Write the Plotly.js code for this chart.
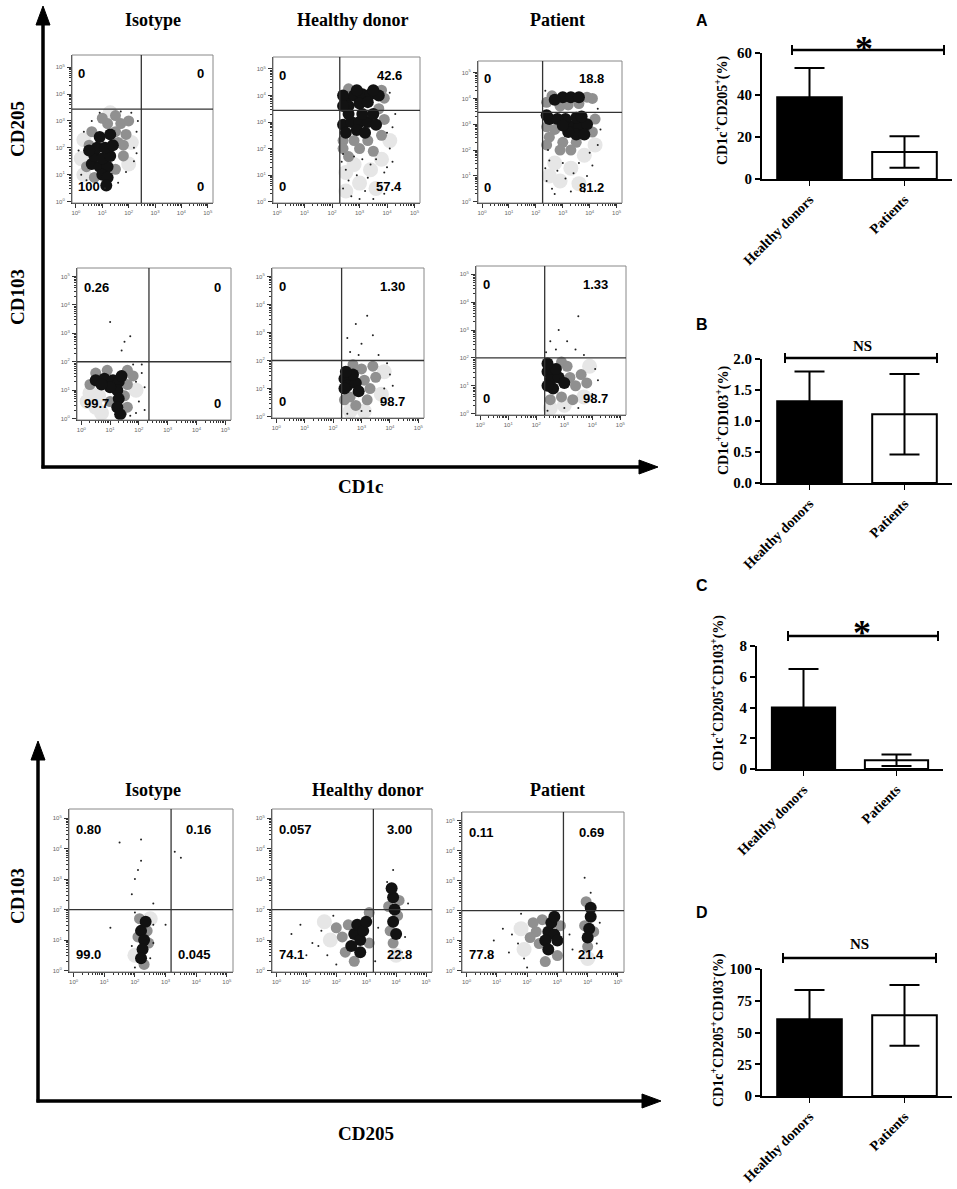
<!DOCTYPE html>
<html><head><meta charset="utf-8">
<script src="https://cdn.plot.ly/plotly-3.0.1.min.js"></script>
<style>html,body{margin:0;padding:0;background:#fff}#chart{width:957px;height:1189px}</style>
</head><body><div id="chart"></div>
<script>
// ================= DATA =================
// Bar charts
const groups = ['Healthy donors', 'Patients'];
const meanA = [38.9, 12.9];  const sdA = [14.0, 7.5];   // CD1c+CD205+ (%)
const meanB = [1.32, 1.11];  const sdB = [0.48, 0.65];  // CD1c+CD103+ (%)
const meanC = [4.0, 0.57];   const sdC = [2.5, 0.38];   // CD1c+CD205+CD103+ (%)
const meanD = [60.5, 63.5];  const sdD = [23.0, 24.0];  // CD1c+CD205+CD103- (%)
const sigLabels = ['*', 'NS', '*', 'NS'];
const yTitles = ['CD1c<sup>+</sup>CD205<sup>+</sup>(%)', 'CD1c<sup>+</sup>CD103<sup>+</sup>(%)',
  'CD1c<sup>+</sup>CD205<sup>+</sup>CD103<sup>+</sup>(%)', 'CD1c<sup>+</sup>CD205<sup>+</sup>CD103<sup>-</sup>(%)'];
const panelLetters = ['A', 'B', 'C', 'D'];

// Flow plots: column titles, tick labels
const columnTitles = ['Isotype', 'Healthy donor', 'Patient'];
const decadeLabels = ['10<sup>0</sup>', '10<sup>1</sup>', '10<sup>2</sup>', '10<sup>3</sup>', '10<sup>4</sup>', '10<sup>5</sup>'];

// Quadrant percentages [top-left, top-right, bottom-left, bottom-right]
const quadIsoCD205 = ['0', '0', '100', '0'];
const quadHdCD205  = ['0', '42.6', '0', '57.4'];
const quadPtCD205  = ['0', '18.8', '0', '81.2'];
const quadIsoCD103 = ['0.26', '0', '99.7', '0'];
const quadHdCD103  = ['0', '1.30', '0', '98.7'];
const quadPtCD103  = ['0', '1.33', '0', '98.7'];
const quadIsoB     = ['0.80', '0.16', '99.0', '0.045'];
const quadHdB      = ['0.057', '3.00', '74.1', '22.8'];
const quadPtB      = ['0.11', '0.69', '77.8', '21.4'];

// Quadrant gate positions (log10 decades)
const gateX = [2.48, 2.28, 2.25, 2.35, 2.30, 2.30, 3.18, 3.24, 3.20];
const gateY = [3.44, 3.44, 3.46, 2.0, 2.0, 2.0, 2.0, 2.0, 2.0];

// Event clouds, log10 decades [x, y]: dense cores, medium density, faint halo, single events
const isoCD205Core = [[0.6,1.4],[0.9,1.3],[1.2,1.3],[0.7,1.7],[1.0,1.6],[1.3,1.7],[0.8,2.0],[1.1,2.0],[1.4,2.1],[1.0,1.0],[1.2,0.9],[0.9,2.4],[1.3,2.5],[1.15,0.6],[0.5,1.9]];
const isoCD205Mid = [[1.5,2.6],[1.7,2.9],[1.2,2.9],[1.9,2.5],[1.6,2.2],[0.4,1.3],[0.5,2.1],[1.0,3.1],[1.5,3.2],[2.0,3.0],[1.8,1.7],[0.7,0.9],[1.5,1.2],[0.6,2.6],[1.8,2.1]];
const isoCD205Faint = [[0.2,1.6],[0.3,2.3],[2.1,2.2],[0.3,1.0],[2.0,1.4],[1.3,3.3]];
const isoCD205Sparse = [[2.2,2.0],[2.1,3.3],[0.3,2.6],[0.2,1.0],[1.9,1.1],[2.3,2.6],[0.6,3.0],[1.1,0.5],[1.7,3.35],[2.2,1.5],[0.1,1.9],[2.35,3.0],[0.4,0.8],[1.6,0.7],[2.3,1.8],[0.9,3.3]];

const hdCD205Core = [[2.5,3.85],[2.8,4.0],[3.1,4.05],[3.4,4.05],[3.7,4.0],[2.6,3.6],[3.0,3.7],[3.3,3.75],[2.9,4.2],[3.5,4.2],
  [2.4,2.9],[2.7,3.0],[3.0,3.0],[3.3,3.0],[3.6,2.9],[2.5,2.6],[2.9,2.7],[3.2,2.6],[2.6,3.3],[3.1,3.3],[3.5,3.3],[2.4,4.0],[2.4,3.6]];
const hdCD205Mid = [[2.4,2.3],[2.8,2.3],[3.3,2.3],[3.8,2.5],[3.9,3.1],[3.9,3.9],[2.4,2.0],[3.0,2.0],[3.5,1.9],[2.6,1.7],[3.8,4.2],[2.6,4.25],[3.7,3.5]];
const hdCD205Faint = [[2.8,1.4],[3.4,1.2],[3.0,0.7],[3.8,1.6],[2.5,1.1],[3.6,0.5],[4.1,2.3],[2.5,0.4]];
const hdCD205Sparse = [[2.5,1.2],[2.9,1.0],[3.4,1.4],[3.9,1.1],[2.4,0.5],[3.2,0.4],[3.7,0.7],[4.1,2.0],[4.2,1.5],[2.7,0.2],[3.5,0.1],[4.0,2.6],[2.35,1.5],[3.1,1.6],[4.3,3.3],
  [2.6,0.8],[3.3,0.9],[4.0,1.3],[2.8,1.7],[3.6,1.6],[4.2,2.8],[4.1,4.1],[3.0,0.1],[2.4,1.8],[3.9,0.3]];

const ptCD205Core = [[3.0,4.05],[3.3,4.05],[3.6,4.05],[2.7,3.95],
  [3.3,2.9],[3.6,2.9],[3.9,3.0],[3.5,2.6],[3.8,2.6],[3.1,3.2],[3.5,3.25],[2.5,3.2],[2.8,3.2],[3.2,2.7],[3.7,3.3],[3.0,2.95],[2.4,3.35]];
const ptCD205Mid = [[2.4,3.85],[2.6,4.1],[3.9,4.05],[4.1,4.0],[3.2,3.75],[2.9,3.7],[3.6,3.8],
  [2.4,2.9],[2.7,2.8],[2.5,2.5],[3.0,2.3],[3.5,2.3],[4.1,2.7],[4.2,3.2],[2.4,2.2],[2.9,2.0],[3.3,2.0]];
const ptCD205Faint = [[2.7,1.5],[3.3,1.3],[3.8,1.8],[2.9,0.8],[2.5,1.0],[3.6,0.7],[4.2,2.2]];
const ptCD205Sparse = [[2.5,1.6],[2.8,1.2],[3.1,0.9],[3.6,1.5],[4.0,1.9],[2.4,0.8],[3.3,0.4],[2.7,0.3],[4.3,2.2],[3.9,1.0],[2.35,1.3],[4.4,2.8],
  [2.6,0.5],[3.0,1.5],[3.4,1.1],[4.1,1.4],[2.45,2.0],[3.8,0.4],[4.3,3.6],[2.35,4.3]];

const isoCD103Core = [[0.5,1.35],[0.8,1.4],[1.1,1.35],[1.3,1.3],[1.25,1.0],[1.3,0.7],[1.25,0.4],[1.0,1.1],[0.7,1.2],[1.4,1.5],[1.35,0.15]];
const isoCD103Mid = [[0.3,1.2],[0.5,1.6],[1.6,1.2],[1.5,0.8],[1.4,0.2],[1.0,0.6],[1.8,1.5],[0.9,1.7],[1.6,1.7],[1.6,0.4]];
const isoCD103Faint = [[0.2,0.6],[0.5,0.4],[0.3,0.9],[0.7,0.2],[1.9,1.0],[0.6,0.8]];
const isoCD103Sparse = [[2.0,0.6],[2.2,1.1],[1.9,0.2],[2.1,1.6],[1.0,3.4],[1.5,2.7],[1.7,2.9],[1.4,2.4],[1.8,1.9],[2.2,0.3],[1.9,1.3],[2.1,1.9],[1.7,0.1]];

const hdCD103Core = [[2.4,1.35],[2.6,1.3],[2.5,1.1],[2.8,1.2],[2.7,1.5],[2.9,0.9],[2.45,1.6],[2.4,1.0]];
const hdCD103Mid = [[3.1,1.3],[3.3,1.0],[3.0,1.7],[3.2,0.6],[2.6,0.7],[3.5,1.4],[2.8,0.4],[3.4,1.8],[2.4,0.6],[2.7,1.85]];
const hdCD103Faint = [[3.7,0.8],[2.6,0.2],[3.8,1.6],[3.1,0.2]];
const hdCD103Sparse = [[3.8,1.0],[3.7,0.5],[4.0,1.5],[2.5,0.1],[3.0,0.2],[2.6,2.3],[3.0,2.6],[3.4,2.9],[2.8,3.3],[3.6,2.2],[2.5,2.8],[3.9,1.9],[4.1,1.1],[3.3,0.2],[2.9,2.2],[3.2,3.6]];

const ptCD103Core = [[2.4,1.5],[2.6,1.4],[2.5,1.2],[2.8,1.3],[2.7,1.6],[2.4,1.8],[3.0,1.1],[2.6,0.9],[2.4,1.0]];
const ptCD103Mid = [[3.2,1.3],[3.4,1.0],[3.1,1.7],[3.6,1.4],[2.9,0.6],[3.3,0.5],[2.5,0.5],[3.8,1.1],[2.9,1.85]];
const ptCD103Faint = [[2.5,0.2],[3.0,0.3],[3.9,1.7],[3.7,0.6]];
const ptCD103Sparse = [[4.0,0.7],[4.1,1.6],[2.4,0.1],[3.0,0.2],[2.7,2.3],[3.1,2.6],[3.4,2.3],[2.8,3.0],[3.5,3.5],[3.7,2.1],[2.5,2.6],[4.2,1.2],[3.5,0.2],[2.35,2.2]];

const isoBCore = [[2.2,1.3],[2.3,1.0],[2.25,0.7],[2.35,1.6],[2.2,0.4]];
const isoBMid = [[2.1,1.1],[2.4,1.3],[2.3,0.2],[2.15,1.7],[2.45,0.9]];
const isoBFaint = [[2.5,1.7],[2.0,0.5]];
const isoBSparse = [[2.6,1.5],[1.9,0.8],[2.0,1.9],[2.5,0.4],[1.2,1.4],[1.9,2.5],[2.0,3.0],[2.1,3.3],[2.2,3.6],[2.6,2.2],[3.3,3.9],[3.5,3.7],[1.5,4.2],[2.2,4.3],[3.0,1.5],[2.0,0.1],[2.6,0.9]];

const hdBCore = [[2.6,1.2],[2.8,1.0],[2.7,1.5],[2.9,1.3],[2.5,0.8],[2.8,0.6],[3.0,1.6],
  [3.9,1.6],[3.95,2.0],[3.9,2.4],[4.0,1.2],[3.85,2.7]];
const hdBMid = [[2.2,1.1],[2.4,1.5],[2.3,0.6],[3.1,0.9],[2.6,0.3],[2.0,1.4],[3.1,1.9],
  [4.05,1.8],[3.8,1.3],[4.1,2.3],[3.75,2.1],[3.9,0.9]];
const hdBFaint = [[1.8,1.0],[1.6,1.6],[4.0,0.5]];
const hdBSparse = [[1.5,1.3],[1.2,0.9],[0.8,1.5],[1.7,0.5],[1.9,1.8],[0.5,1.2],[3.4,1.4],[4.3,1.1],[4.4,2.2],[3.9,3.3],[3.7,2.9],[3.3,0.3],[1.0,0.5],[1.4,0.8],[2.0,0.2],[4.2,0.6]];

const ptBCore = [[2.7,1.3],[2.9,1.2],[2.8,1.6],[3.0,1.0],[2.6,1.0],[2.9,1.8],[2.7,0.7],
  [4.05,1.4],[4.1,1.8],[4.0,1.1],[4.1,2.1]];
const ptBMid = [[2.3,1.3],[2.4,0.9],[3.1,1.5],[2.5,1.7],[2.6,0.3],[3.0,0.5],[2.1,1.1],[2.2,1.6],
  [3.9,1.5],[4.2,1.3],[3.95,2.3],[4.0,0.8]];
const ptBFaint = [[1.8,1.4],[1.9,0.7],[4.0,0.4]];
const ptBSparse = [[1.5,1.2],[1.7,0.9],[1.2,1.4],[1.9,0.4],[0.9,1.0],[3.4,1.2],[3.5,0.7],[4.4,1.6],[4.1,2.6],[3.9,3.1],[1.8,1.9],[1.4,0.6],[2.0,0.1],[4.3,0.9]];

// ================= LAYOUT HELPERS =================
const W = 957, H = 1189;
const px = v => v / W;
const py = v => 1 - v / H;
const serif = 'Liberation Serif, Times New Roman, serif';
const sans = 'Liberation Sans, Arial, sans-serif';

const flowPanels = [
  {box: [72, 213, 55, 203],  yr: [-0.05, 5.45], core: isoCD205Core, mid: isoCD205Mid, faint: isoCD205Faint, sparse: isoCD205Sparse, quad: quadIsoCD205, xr: 0.95},
  {box: [273, 420, 57, 203], yr: [-0.05, 5.45], core: hdCD205Core, mid: hdCD205Mid, faint: hdCD205Faint, sparse: hdCD205Sparse, quad: quadHdCD205, xr: 0.89},
  {box: [478, 622, 61, 203], yr: [-0.05, 5.45], core: ptCD205Core, mid: ptCD205Mid, faint: ptCD205Faint, sparse: ptCD205Sparse, quad: quadPtCD205, xr: 0.89},
  {box: [77, 231, 268, 420], yr: [-0.05, 5.3], core: isoCD103Core, mid: isoCD103Mid, faint: isoCD103Faint, sparse: isoCD103Sparse, quad: quadIsoCD103, xr: 0.95},
  {box: [272, 424, 268, 418], yr: [-0.05, 5.3], core: hdCD103Core, mid: hdCD103Mid, faint: hdCD103Faint, sparse: hdCD103Sparse, quad: quadHdCD103, xr: 0.89},
  {box: [476, 626, 266, 415], yr: [-0.05, 5.3], core: ptCD103Core, mid: ptCD103Mid, faint: ptCD103Faint, sparse: ptCD103Sparse, quad: quadPtCD103, xr: 0.89},
  {box: [69, 233, 809, 972],  yr: [-0.05, 5.3], core: isoBCore, mid: isoBMid, faint: isoBFaint, sparse: isoBSparse, quad: quadIsoB, xr: 0.88},
  {box: [272, 432, 809, 972], yr: [-0.05, 5.3], core: hdBCore, mid: hdBMid, faint: hdBFaint, sparse: hdBSparse, quad: quadHdB, xr: 0.89},
  {box: [462, 624, 812, 972], yr: [-0.05, 5.3], core: ptBCore, mid: ptBMid, faint: ptBFaint, sparse: ptBSparse, quad: quadPtB, xr: 0.89}
];
const flowXRange = [-0.15, 5.2];

const barPanels = [
  {box: [762, 952, 53, 179],  mean: meanA, sd: sdA, max: 60,  ticks: [0, 20, 40, 60], fmt: v => String(v),
   letter: [702, 20], title: [722, 110], bracket: [792, 944, 50], sig: [864, 49]},
  {box: [762, 952, 359, 483], mean: meanB, sd: sdB, max: 2,   ticks: [0, 0.5, 1, 1.5, 2], fmt: v => v.toFixed(1),
   letter: [702, 325], title: [722, 420], bracket: [785, 937, 358], sig: [862, 346]},
  {box: [757, 943, 646, 769], mean: meanC, sd: sdC, max: 8,   ticks: [0, 2, 4, 6, 8], fmt: v => String(v),
   letter: [702, 585], title: [717, 693], bracket: [788, 938, 636], sig: [862, 633]},
  {box: [762, 952, 969, 1096], mean: meanD, sd: sdD, max: 100, ticks: [0, 25, 50, 75, 100], fmt: v => String(v),
   letter: [702, 912], title: [717, 1030], bracket: [783, 936, 958], sig: [859, 944]}
];

const traces = [];
const layout = {
  width: W, height: H, margin: {l: 0, r: 0, t: 0, b: 0},
  paper_bgcolor: '#fff', plot_bgcolor: 'rgba(0,0,0,0)',
  showlegend: false, font: {family: serif, color: '#000'},
  shapes: [], annotations: []
};

const minorVals = [];
for (let n = 0; n < 5; n++) for (let k = 2; k <= 9; k++) minorVals.push(n + Math.log10(k));

function axId(n) { return n === 1 ? '' : String(n); }

// ---------- flow panels ----------
flowPanels.forEach((p, i) => {
  const n = i + 1, s = axId(n);
  const [x0, x1, y0, y1] = p.box;
  const axBase = {
    showline: true, linecolor: '#333', linewidth: 1, mirror: false,
    ticks: 'outside', ticklen: 4, tickwidth: 1, tickcolor: '#333',
    tickvals: [0, 1, 2, 3, 4, 5], ticktext: decadeLabels,
    tickfont: {family: sans, size: 6, color: '#666'},
    showgrid: false, zeroline: false, fixedrange: true,
    minor: {tickvals: minorVals, ticks: 'outside', ticklen: 2, tickcolor: '#333', showgrid: false}
  };
  layout['xaxis' + s] = Object.assign({}, axBase, {domain: [px(x0), px(x1)], range: flowXRange, anchor: 'y' + s});
  layout['yaxis' + s] = Object.assign({}, axBase, {domain: [py(y1), py(y0)], range: p.yr, anchor: 'x' + s, ticklabelstandoff: 1});
  const xa = 'x' + s, ya = 'y' + s;
  const add = (pts, size, color) => traces.push({
    type: 'scatter', mode: 'markers', x: pts.map(d => d[0]), y: pts.map(d => d[1]),
    xaxis: xa, yaxis: ya, hoverinfo: 'skip', cliponaxis: true,
    marker: {size: size, color: color, line: {width: 0}}
  });
  add(p.faint, 15, '#e6e6e6');
  add(p.mid, 11, '#909090');
  add(p.core, 12, '#121212');
  add(p.sparse, 2, '#222');
  // box frame
  layout.shapes.push({type: 'rect', xref: xa + ' domain', yref: ya + ' domain', x0: 0, x1: 1, y0: 0, y1: 1,
    line: {color: '#888', width: 1}});
  // quadrant gates
  layout.shapes.push({type: 'line', xref: xa, yref: ya + ' domain', x0: gateX[i], x1: gateX[i], y0: 0, y1: 1,
    line: {color: '#333', width: 1.3}});
  layout.shapes.push({type: 'line', xref: xa + ' domain', yref: ya, x0: 0, x1: 1, y0: gateY[i], y1: gateY[i],
    line: {color: '#333', width: 1.3}});
  // quadrant percentages
  const qpos = [[0.03, 0.875, 'left'], [p.xr, 0.875, 'right'], [0.03, 0.11, 'left'], [p.xr, 0.11, 'right']];
  p.quad.forEach((t, k) => layout.annotations.push({
    xref: xa + ' domain', yref: ya + ' domain', x: qpos[k][0], y: qpos[k][1],
    xanchor: qpos[k][2], yanchor: 'middle', text: t, showarrow: false,
    font: {family: sans, size: 13, color: '#000', weight: 'bold'}
  }));
});

// column titles
const titlePos = [[153, 20], [353, 20], [557, 20], [153, 790], [368, 790], [557, 790]];
titlePos.forEach((t, k) => layout.annotations.push({
  xref: 'paper', yref: 'paper', x: px(t[0]), y: py(t[1]), xanchor: 'center', yanchor: 'middle',
  text: columnTitles[k % 3], showarrow: false, font: {family: serif, size: 18, color: '#000', weight: 'bold'}
}));

// big axis labels
const bigLabels = [
  {t: 'CD205', x: 17, y: 129, a: -90}, {t: 'CD103', x: 17, y: 297, a: -90}, {t: 'CD1c', x: 360, y: 486, a: 0},
  {t: 'CD103', x: 17, y: 896, a: -90}, {t: 'CD205', x: 366, y: 1133, a: 0}
];
bigLabels.forEach(b => layout.annotations.push({
  xref: 'paper', yref: 'paper', x: px(b.x), y: py(b.y), xanchor: 'center', yanchor: 'middle',
  text: b.t, textangle: b.a, showarrow: false, font: {family: serif, size: 19, color: '#000', weight: 'bold'}
}));

// big arrows (axes of the flow blocks)
function arrowV(x, yBottom, yTip) {
  layout.shapes.push({type: 'line', xref: 'paper', yref: 'paper', x0: px(x), x1: px(x), y0: py(yBottom), y1: py(yTip + 14),
    line: {color: '#000', width: 3.5}});
  layout.shapes.push({type: 'path', xref: 'paper', yref: 'paper',
    path: `M ${px(x - 7)} ${py(yTip + 19)} L ${px(x)} ${py(yTip)} L ${px(x + 7)} ${py(yTip + 19)} Z`,
    fillcolor: '#000', line: {color: '#000', width: 1}});
}
function arrowH(y, xLeft, xTip) {
  layout.shapes.push({type: 'line', xref: 'paper', yref: 'paper', x0: px(xLeft), x1: px(xTip - 14), y0: py(y), y1: py(y),
    line: {color: '#000', width: 3.5}});
  layout.shapes.push({type: 'path', xref: 'paper', yref: 'paper',
    path: `M ${px(xTip - 19)} ${py(y - 7)} L ${px(xTip)} ${py(y)} L ${px(xTip - 19)} ${py(y + 7)} Z`,
    fillcolor: '#000', line: {color: '#000', width: 1}});
}
arrowV(43, 468.5, 6); arrowH(467, 41.5, 658);
arrowV(38, 1102.5, 741); arrowH(1101, 36.5, 661);

// ---------- bar panels ----------
barPanels.forEach((b, j) => {
  const n = 10 + j, s = String(n);
  const [x0, x1, y0, y1] = b.box;
  layout['xaxis' + s] = {
    domain: [px(x0), px(x1)], anchor: 'y' + s, type: 'category', range: [-0.5, 1.5],
    showline: true, linecolor: '#000', linewidth: 2, ticks: 'outside', ticklen: 5, tickwidth: 1.5, tickcolor: '#000',
    tickangle: -45, tickfont: {family: serif, size: 14, color: '#000', weight: 'bold'},
    showgrid: false, zeroline: false, fixedrange: true
  };
  layout['yaxis' + s] = {
    domain: [py(y1), py(y0)], anchor: 'x' + s, range: [0, b.max],
    tickvals: b.ticks, ticktext: b.ticks.map(b.fmt),
    showline: true, linecolor: '#000', linewidth: 2, ticks: 'outside', ticklen: 5, tickwidth: 2, tickcolor: '#000',
    tickfont: {family: serif, size: 15, color: '#000', weight: 'bold'},
    showgrid: false, zeroline: false, fixedrange: true
  };
  traces.push({
    type: 'bar', x: groups, y: b.mean, width: 0.68, xaxis: 'x' + s, yaxis: 'y' + s, hoverinfo: 'skip',
    marker: {color: ['#000', '#fff'], line: {color: '#000', width: 2}},
    error_y: {type: 'data', array: b.sd, visible: true, color: '#000', thickness: 2, width: 15}
  });
  // significance bracket
  const [bx0, bx1, by] = b.bracket;
  layout.shapes.push({type: 'line', xref: 'paper', yref: 'paper', x0: px(bx0), x1: px(bx1), y0: py(by), y1: py(by), line: {color: '#000', width: 2.5}});
  layout.shapes.push({type: 'line', xref: 'paper', yref: 'paper', x0: px(bx0), x1: px(bx0), y0: py(by - 5), y1: py(by + 5), line: {color: '#000', width: 2}});
  layout.shapes.push({type: 'line', xref: 'paper', yref: 'paper', x0: px(bx1), x1: px(bx1), y0: py(by - 5), y1: py(by + 5), line: {color: '#000', width: 2}});
  const isStar = sigLabels[j] === '*';
  layout.annotations.push({
    xref: 'paper', yref: 'paper', x: px(b.sig[0]), y: py(b.sig[1]), xanchor: 'center', yanchor: 'middle',
    text: sigLabels[j], showarrow: false,
    font: {family: serif, size: isStar ? 36 : 15, color: '#000', weight: 'bold'}
  });
  layout.annotations.push({
    xref: 'paper', yref: 'paper', x: px(b.letter[0]), y: py(b.letter[1]), xanchor: 'center', yanchor: 'middle',
    text: panelLetters[j], showarrow: false, font: {family: sans, size: 16, color: '#000', weight: 'bold'}
  });
  layout.annotations.push({
    xref: 'paper', yref: 'paper', x: px(b.title[0]), y: py(b.title[1]), xanchor: 'center', yanchor: 'middle',
    text: yTitles[j], textangle: -90, showarrow: false, font: {family: serif, size: 14, color: '#000', weight: 'bold'}
  });
});

Plotly.newPlot('chart', traces, layout, {displayModeBar: false, staticPlot: true});
</script>
</body></html>
